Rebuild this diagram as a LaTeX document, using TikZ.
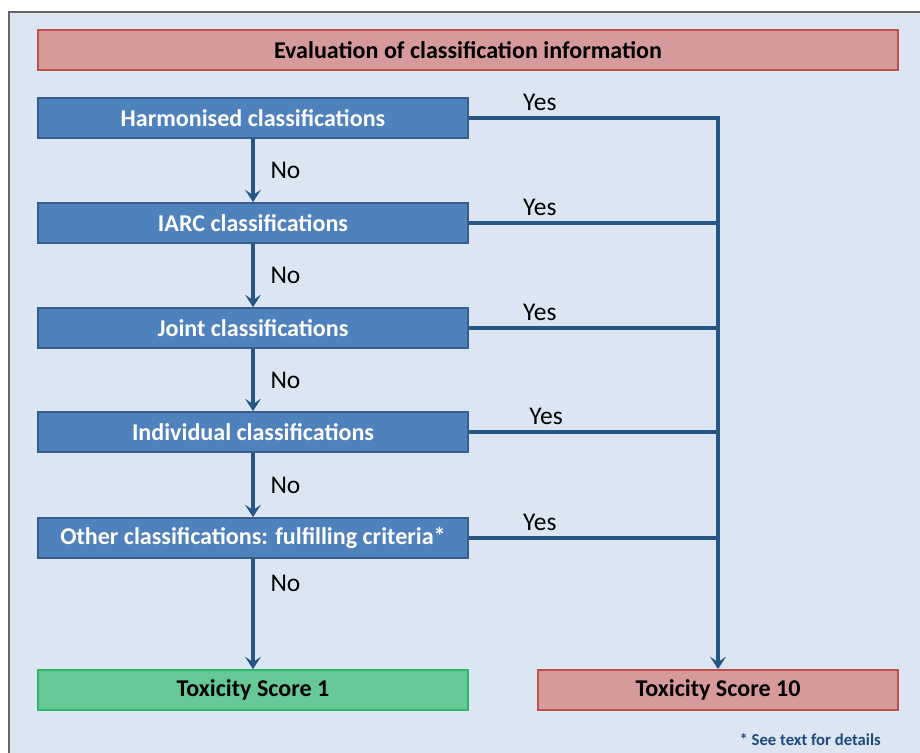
\documentclass[tikz,border=0pt]{standalone}
\usepackage{fontspec}
\setmainfont{Carlito}
\usetikzlibrary{arrows.meta, positioning}
\definecolor{PanelBlue}{HTML}{DCE6F2}
\definecolor{BoxBlue}{HTML}{4F81BD}
\definecolor{BoxEdge}{HTML}{385D8A}
\definecolor{RedFill}{HTML}{D69A9B}
\definecolor{RedEdge}{HTML}{C0504D}
\definecolor{GreenFill}{HTML}{66C995}
\definecolor{GreenEdge}{HTML}{2DB56B}
\definecolor{FlowBlue}{HTML}{285684}
\definecolor{NoteBlue}{HTML}{1F497D}

\begin{document}
\begin{tikzpicture}[x=0.02cm, y=-0.02cm,
                stepbox/.style={draw=BoxEdge, fill=BoxBlue, line width=1pt, text=white,
                    font=\fontsize{13.7}{16}\selectfont\bfseries,
                    minimum width=8.6cm, minimum height=0.8cm, inner sep=0pt},
                redbox/.style={draw=RedEdge, fill=RedFill, line width=1pt,
                    font=\fontsize{13.7}{16}\selectfont\bfseries,
                    minimum height=0.8cm, inner sep=0pt},
                greenbox/.style={draw=GreenEdge, fill=GreenFill, line width=1pt,
                    font=\fontsize{13.7}{16}\selectfont\bfseries,
                    minimum width=8.6cm, minimum height=0.8cm, inner sep=0pt},
                flow/.style={draw=FlowBlue, line width=1.9pt},
                arrow/.style={flow, -{Stealth[length=7pt, width=9pt, inset=3pt]}},
                answer/.style={font=\fontsize{14.5}{17}\selectfont}
            ]

            \useasboundingbox (0,0) rectangle (920,753);
            \fill[white] (0,0) rectangle (920,753);
            \fill[PanelBlue] (9,12) rectangle (920,753);
            \draw[gray!80!black, line width=0.8pt] (9,753) -- (9,12) -- (920,12);

            \node[redbox, minimum width=17.2cm] (title) at (468,50) {Evaluation of classification information};

            \node[stepbox] (harm)  at (253,118) {Harmonised classifications};
            \node[stepbox] (iarc)  at (253,223) {IARC classifications};
            \node[stepbox] (joint) at (253,328) {Joint classifications};
            \node[stepbox] (indiv) at (253,432) {Individual classifications};
            \node[stepbox] (other) at (253,538) {Other classifications: fulfilling criteria*};

            \node[greenbox] (score1) at (253,690) {Toxicity Score 1};
            \node[redbox, minimum width=7.2cm] (score10) at (718,690) {Toxicity Score 10};

            % No branch
            \draw[arrow] (harm) -- node[answer, right=0.2cm] {No} (iarc);
            \draw[arrow] (iarc) -- node[answer, right=0.2cm] {No} (joint);
            \draw[arrow] (joint) -- node[answer, right=0.2cm] {No} (indiv);
            \draw[arrow] (indiv) -- node[answer, right=0.2cm] {No} (other);
            \draw[arrow] (other) -- node[answer, right=0.2cm, pos=0.22] {No} (score1);

            % Yes branch
            \draw[arrow] (harm.east) -- node[answer, above, pos=0.285] {Yes} (harm.east -| score10.north) -- (score10.north);
            \draw[flow] (iarc.east) -- node[answer, above, pos=0.285] {Yes} (iarc.east -| score10.north);
            \draw[flow] (joint.east) -- node[answer, above, pos=0.285] {Yes} (joint.east -| score10.north);
            \draw[flow] (indiv.east) -- node[answer, above, pos=0.31] {Yes} (indiv.east -| score10.north);
            \draw[flow] (other.east) -- node[answer, above, pos=0.285] {Yes} (other.east -| score10.north);

            \node[text=NoteBlue, font=\fontsize{9.5}{11}\selectfont\bfseries, anchor=east] (note) at (887,740) {* See text for details};

        \end{tikzpicture}
\end{document}
